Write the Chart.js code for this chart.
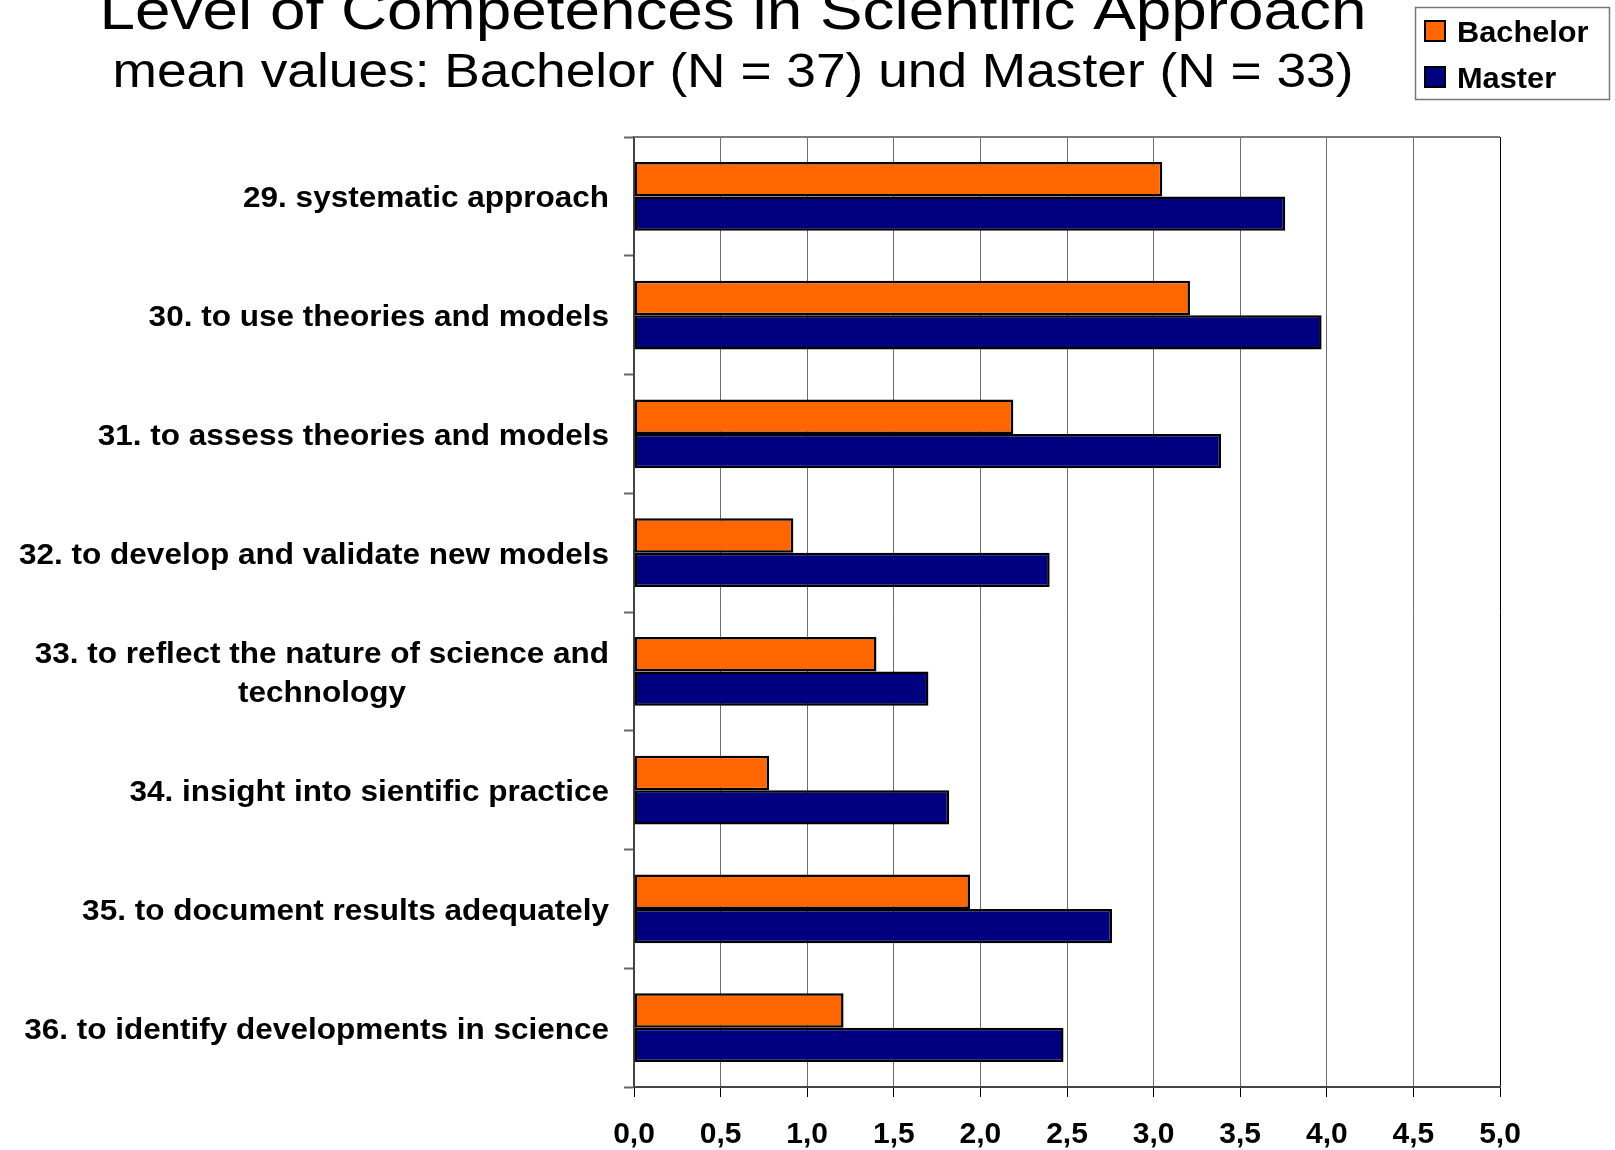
<!DOCTYPE html>
<html>
<head>
<meta charset="utf-8">
<title>Level of Competences in Scientific Approach</title>
<script src="https://cdn.jsdelivr.net/npm/chart.js@4.4.1/dist/chart.umd.min.js"></script>
<style>
    html, body { margin: 0; padding: 0; background: #fff; }
    #wrap { position: relative; width: 1615px; height: 1150px; }
</style>
</head>
<body>
<div id="wrap"><canvas id="competenceChart"></canvas></div>
<script>
// Survey items (one bar pair per item)
const categories = [
    '29. systematic approach',
    '30. to use theories and models',
    '31. to assess theories and models',
    '32. to develop and validate new models',
    ['33. to reflect the nature of science and', 'technology'],
    '34. insight into sientific practice',
    '35. to document results adequately',
    '36. to identify developments in science'
];

// Mean values per group
const bachelorMeans = [3.05, 3.21, 2.19, 0.92, 1.40, 0.78, 1.94, 1.21];
const masterMeans = [3.76, 3.97, 3.39, 2.40, 1.70, 1.82, 2.76, 2.48];

const seriesNames = ['Bachelor', 'Master'];
const seriesColors = ['#FF6600', '#000080'];

// Value axis range
const axisMin = 0;
const axisMax = 5;
const axisStep = 0.5;

const FONT = '"Liberation Sans", Arial, sans-serif';
const TITLE = 'Level of Competences in Scientific Approach';
const SUBTITLE = 'mean values: Bachelor (N = 37) und Master (N = 33)';

// draws text squeezed/stretched horizontally by sx
function drawText(ctx, text, x, y, align, sx) {
    const w = ctx.measureText(text).width * sx;
    let left = x;
    if (align === 'right') left = x - w;
    else if (align === 'center') left = x - w / 2;
    ctx.save();
    ctx.translate(left, y);
    ctx.scale(sx, 1);
    ctx.textAlign = 'left';
    ctx.fillText(text, 0, 0);
    ctx.restore();
}

// Title, boxed legend, top border and the category labels
const decorPlugin = {
    id: 'decor',
    beforeDatasetsDraw(chart) {
        const { ctx, chartArea } = chart;
        ctx.save();
        ctx.strokeStyle = '#7a7a7a';
        ctx.lineWidth = 2;
        ctx.beginPath();
        ctx.moveTo(chartArea.left, chartArea.top);
        ctx.lineTo(chartArea.right, chartArea.top);
        ctx.stroke();
        ctx.restore();
    },
    afterDraw(chart) {
        const { ctx, chartArea } = chart;
        const yScale = chart.scales.y;

        ctx.save();
        ctx.fillStyle = '#000';
        ctx.textBaseline = 'alphabetic';

        // headings
        ctx.font = '56px ' + FONT;
        drawText(ctx, TITLE, 733, 29, 'center', 1.14);
        ctx.font = '48px ' + FONT;
        drawText(ctx, SUBTITLE, 733, 87, 'center', 1.11);

        // category labels, multi-line ones centred as a block
        ctx.font = 'bold 30px ' + FONT;
        const sx = 1.05;
        const lineH = 39;
        const right = chartArea.left - 25;
        chart.data.labels.forEach((label, i) => {
            const lines = Array.isArray(label) ? label : [label];
            const yc = yScale.getPixelForTick(i);
            const blockW = Math.max(...lines.map(l => ctx.measureText(l).width * sx));
            const y0 = yc - (lines.length - 1) * lineH / 2 + 11;
            lines.forEach((line, j) => {
                if (lines.length === 1) drawText(ctx, line, right, y0, 'right', sx);
                else drawText(ctx, line, right - blockW / 2, y0 + j * lineH, 'center', sx);
            });
        });

        // legend box
        ctx.strokeStyle = '#777';
        ctx.lineWidth = 1.5;
        ctx.strokeRect(1415.5, 7.5, 194, 92);
        ctx.font = 'bold 29px ' + FONT;
        chart.data.datasets.forEach((ds, i) => {
            const top = 21 + i * 46;
            ctx.fillStyle = ds.backgroundColor;
            ctx.fillRect(1425, top, 20, 20);
            ctx.strokeStyle = '#000';
            ctx.lineWidth = 2;
            ctx.strokeRect(1425, top, 20, 20);
            ctx.fillStyle = '#000';
            drawText(ctx, ds.label, 1457, top + 21, 'left', 1.06);
        });
        ctx.restore();
    }
};

const chartCtx = document.getElementById('competenceChart');

new Chart(chartCtx, {
    type: 'bar',
    data: {
        labels: categories,
        datasets: [
            {
                label: seriesNames[0],
                data: bachelorMeans,
                backgroundColor: seriesColors[0],
                borderColor: '#000',
                borderWidth: 2.5,
                borderSkipped: false,
                categoryPercentage: 0.58,
                barPercentage: 1.0
            },
            {
                label: seriesNames[1],
                data: masterMeans,
                backgroundColor: seriesColors[1],
                borderColor: '#000',
                borderWidth: 2.5,
                borderSkipped: false,
                categoryPercentage: 0.58,
                barPercentage: 1.0
            }
        ]
    },
    options: {
        indexAxis: 'y',
        responsive: true,
        maintainAspectRatio: false,
        animation: false,
        layout: {
            padding: { top: 137, right: 115, left: 0, bottom: 0 }
        },
        plugins: {
            legend: { display: false },
            title: { display: false },
            tooltip: { enabled: false }
        },
        scales: {
            x: {
                type: 'linear',
                min: axisMin,
                max: axisMax,
                afterFit: (scale) => { scale.height = 63; },
                ticks: {
                    stepSize: axisStep,
                    color: '#000',
                    padding: 20,
                    font: { family: FONT, size: 30, weight: 'bold' },
                    callback: (v) => Number(v).toFixed(1).replace('.', ',')
                },
                grid: {
                    color: (c) => (c.tick && c.tick.value === axisMax ? '#000' : '#6e6e6e'),
                    lineWidth: 1,
                    tickLength: 10,
                    tickColor: '#000'
                },
                border: { color: '#444', width: 2 }
            },
            y: {
                type: 'category',
                offset: true,
                afterFit: (scale) => { scale.width = 634; },
                ticks: { display: false },
                grid: {
                    offset: true,
                    drawOnChartArea: false,
                    tickLength: 10,
                    tickColor: '#666',
                    tickWidth: 2
                },
                border: { color: '#444', width: 2 }
            }
        }
    },
    plugins: [decorPlugin]
});
</script>
</body>
</html>
